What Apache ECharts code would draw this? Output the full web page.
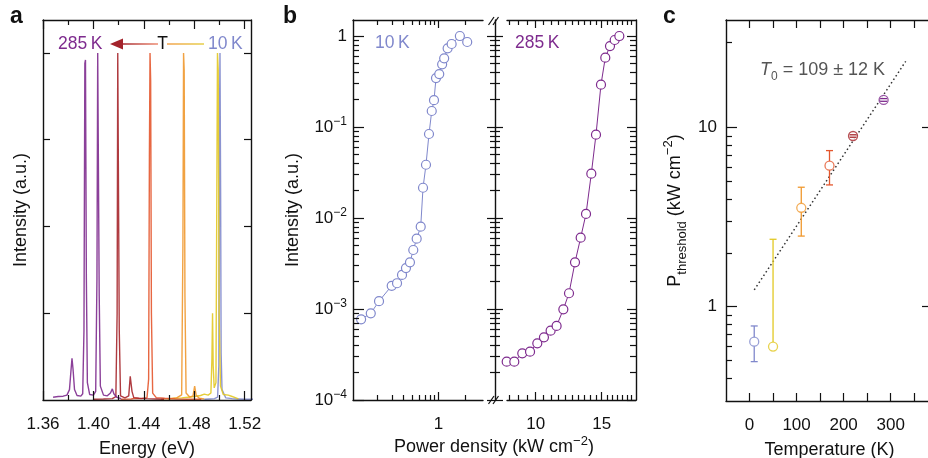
<!DOCTYPE html>
<html><head><meta charset="utf-8">
<script src="https://cdn.jsdelivr.net/npm/echarts@6/dist/echarts.min.js"></script>
<style>html,body{margin:0;padding:0;background:#fff}#c{width:928px;height:458px}</style>
</head><body><div id="c"></div>
<script>
// ---------- Panel a: normalised PL spectra [energy (eV), intensity (a.u.)] ----------
const spec10K = [[1.4880,0.002],[1.4920,0.003],[1.4960,0.004],[1.4985,0.008],[1.4995,0.10],[1.5000,0.80],[1.5004,1.00],[1.5009,0.60],[1.5013,0.135],[1.5020,0.030],[1.5050,0.006],[1.5100,0.004],[1.5150,0.003],[1.5200,0.002],[1.5280,0.002]];
const spec50K = [[1.4590,0.003],[1.4650,0.005],[1.4700,0.006],[1.4750,0.008],[1.4800,0.010],[1.4850,0.013],[1.4880,0.017],[1.4910,0.014],[1.4932,0.020],[1.4940,0.12],[1.4945,0.25],[1.4950,0.10],[1.4958,0.035],[1.4972,0.05],[1.4979,0.60],[1.4984,1.00],[1.4990,0.95],[1.4997,0.25],[1.5008,0.04],[1.5030,0.016],[1.5070,0.014],[1.5100,0.010],[1.5130,0.006],[1.5150,0.003]];
const spec110K = [[1.4536,0.002],[1.4600,0.004],[1.4660,0.006],[1.4700,0.015],[1.4710,0.45],[1.4715,1.00],[1.4720,0.95],[1.4726,0.30],[1.4735,0.02],[1.4765,0.008],[1.4790,0.012],[1.4803,0.040],[1.4808,0.044],[1.4815,0.014],[1.4840,0.005],[1.4880,0.003]];
const spec170K = [[1.4216,0.002],[1.4300,0.003],[1.4330,0.005],[1.4380,0.004],[1.4425,0.007],[1.4438,0.06],[1.4444,0.70],[1.4449,1.00],[1.4454,0.92],[1.4460,0.25],[1.4470,0.02],[1.4500,0.006],[1.4535,0.006],[1.4550,0.011],[1.4565,0.005],[1.4650,0.003],[1.4750,0.002],[1.4856,0.002]];
const spec220K = [[1.4000,0.002],[1.4080,0.003],[1.4150,0.004],[1.4178,0.010],[1.4188,0.25],[1.4193,1.00],[1.4198,1.00],[1.4205,0.20],[1.4215,0.012],[1.4250,0.006],[1.4280,0.012],[1.4292,0.068],[1.4298,0.072],[1.4306,0.025],[1.4320,0.007],[1.4360,0.005],[1.4420,0.004],[1.4500,0.003],[1.4560,0.002]];
const spec285K = [[1.3680,0.008],[1.3720,0.010],[1.3760,0.011],[1.3790,0.014],[1.3810,0.030],[1.3822,0.085],[1.3830,0.120],[1.3838,0.090],[1.3850,0.030],[1.3870,0.013],[1.3900,0.011],[1.3915,0.018],[1.3925,0.20],[1.3932,0.97],[1.3937,0.98],[1.3944,0.35],[1.3952,0.05],[1.3970,0.016],[1.4000,0.014],[1.4018,0.025],[1.4028,0.35],[1.4034,1.00],[1.4039,1.00],[1.4046,0.30],[1.4055,0.04],[1.4080,0.014],[1.4110,0.012],[1.4135,0.020],[1.4150,0.032],[1.4162,0.018],[1.4185,0.008],[1.4220,0.004]];

// ---------- Panel b: intensity vs power density ----------
const power10K = [0.132,0.170,0.211,0.294,0.338,0.385,0.427,0.474,0.517,0.565,0.628,0.667,0.721,0.780,0.838,0.889,0.937,1.02,1.10,1.16,1.27,1.41,1.75,2.12];
const intensity10K = [7.7e-4,8.97e-4,1.22e-3,1.80e-3,1.92e-3,2.37e-3,2.82e-3,3.26e-3,4.45e-3,5.93e-3,8.03e-3,0.0215,0.0385,0.0838,0.150,0.197,0.345,0.382,0.489,0.569,0.733,0.817,1.0,0.86];
const power285K = [8.37,8.77,9.21,9.66,10.10,10.52,10.96,11.37,11.85,12.27,12.73,13.18,13.62,14.07,14.48,14.93,15.33,15.78,16.24,16.71];
const intensity285K = [2.64e-4,2.64e-4,3.26e-4,3.40e-4,4.20e-4,4.89e-4,5.78e-4,6.51e-4,9.93e-4,1.49e-3,3.26e-3,6.08e-3,0.0111,0.0307,0.0824,0.292,0.578,0.776,0.904,1.0];

// ---------- Panel c: threshold vs temperature ----------
const temperatureK = [10,50,110,170,220,285];
const pThreshold = [0.637,0.598,3.57,6.14,8.99,14.3];
const pErrLow = [0.493,0.598,2.48,4.79,8.85,14.05];
const pErrHigh = [0.78,2.38,4.65,7.45,9.13,14.55];
const fitTemperature = [10,332];
const fitP = [1.24,23.5];

// ---------- Tick values / labels ----------
const energyTicks = [1.36,1.40,1.44,1.48,1.52];
const energyMinorTicks = [1.38,1.42,1.46,1.50];
const intensityTicksA = [0.25,0.5,0.75,1.0];
const powerTicksLow = [1];
const powerMinorLow = [0.2,0.3,0.4,0.5,0.6,0.7,0.8,0.9,2];
const powerTicksHigh = [10,15];
const powerMinorHigh = [8.5,9,9.5,10.5,11,11.5,12,12.5,13,13.5,14,14.5,15.5,16,16.5,17,17.5,18];
const intensityDecades = [1e-4,1e-3,1e-2,1e-1,1];
const intensityMinor = [0.0002,0.0003,0.0004,0.0005,0.0006,0.0007,0.0008,0.0009,0.002,0.003,0.004,0.005,0.006,0.007,0.008,0.009,0.02,0.03,0.04,0.05,0.06,0.07,0.08,0.09,0.2,0.3,0.4,0.5,0.6,0.7,0.8,0.9];
const tempTicks = [0,50,100,150,200,250,300,350];
const tempLabels = [0,100,200,300];
const pDecades = [1,10];
const pMinor = [0.4,0.5,0.6,0.7,0.8,0.9,2,3,4,5,6,7,8,9,30];

// ---------- Styling ----------
const FONT = '"Liberation Sans", Arial, Helvetica, sans-serif';
const INK = '#111';
const TITLE = 18;
const C10 = '#8088cc', C50 = '#e2c823', C110 = '#f0982e', C170 = '#e4572e', C220 = '#a6262b', C285 = '#7e2b8e';
const tempColors = [C10, C50, C110, C170, C220, C285];

const grid = [
  {left: 43, top: 20, width: 208, height: 380},
  {left: 353, top: 20, width: 130, height: 380},
  {left: 507, top: 20, width: 129, height: 380},
  {left: 726, top: 20, width: 207, height: 381}
].map(g => Object.assign({show: false, containLabel: false, outerBoundsMode: 'none'}, g));

const xAxes = [], yAxes = [];
function addAxis(list, o) {
  const a = {
    gridIndex: o.grid, type: o.log ? 'log' : 'value', position: o.pos,
    min: o.min, max: o.max, offset: o.offset || 0, silent: true, z: 5,
    axisLine: {show: !!o.line, onZero: false, lineStyle: {color: INK, width: 1.4}},
    axisTick: {show: !!o.ticks, inside: o.inside !== false, length: o.len || 6,
               customValues: o.ticks || undefined, lineStyle: {color: INK, width: 1.2}},
    axisLabel: o.labels ? {show: true, customValues: o.labels, formatter: o.fmt, margin: o.margin,
               color: INK, fontSize: 17, fontFamily: FONT, lineHeight: 22, rich: o.rich || {},
               showMinLabel: true, showMaxLabel: true, hideOverlap: false} : {show: false},
    splitLine: {show: false}, minorTick: {show: false}, minorSplitLine: {show: false}, splitArea: {show: false}
  };
  if (o.log) a.logBase = 10;
  if (o.name) {
    a.name = o.name; a.nameLocation = 'middle'; a.nameGap = o.nameGap;
    a.nameTextStyle = Object.assign({color: INK, fontSize: TITLE, fontFamily: FONT}, o.nameStyle || {});
  }
  list.push(a);
  return list.length - 1;
}

// panel a axes
const EA = {min: 1.36, max: 1.525};
const xA = addAxis(xAxes, Object.assign({grid: 0, pos: 'bottom', line: true, ticks: energyTicks, len: 9,
  labels: energyTicks, fmt: v => Number(v).toFixed(2), margin: 13, name: 'Energy (eV)', nameGap: 36}, EA));
addAxis(xAxes, Object.assign({grid: 0, pos: 'bottom', ticks: energyMinorTicks, len: 5}, EA));
addAxis(xAxes, Object.assign({grid: 0, pos: 'top', line: true, ticks: energyTicks, len: 9}, EA));
addAxis(xAxes, Object.assign({grid: 0, pos: 'top', ticks: energyMinorTicks, len: 5}, EA));
const IA = {min: 0, max: 1.095};
const yA = addAxis(yAxes, Object.assign({grid: 0, pos: 'left', line: true, ticks: intensityTicksA, len: 7,
  name: 'Intensity (a.u.)', nameGap: 13}, IA));
addAxis(yAxes, Object.assign({grid: 0, pos: 'right', line: true, ticks: intensityTicksA, len: 7}, IA));

// panel b axes
const decFmt = v => { const e = Math.round(Math.log10(v)); return e === 0 ? '1' : '10{sup|\u2212' + (-e) + '}'; };
const supRich = {sup: {fontSize: 12, lineHeight: 12, verticalAlign: 'top', color: INK, fontFamily: FONT}};
const IB = {min: 1e-4, max: 1.5, log: true};
const PL = {min: 0.1068, max: 3.204, log: true};
const xB1 = addAxis(xAxes, Object.assign({grid: 1, pos: 'bottom', line: true, ticks: powerTicksLow, len: 8,
  labels: powerTicksLow, fmt: v => String(v), margin: 13}, PL));
addAxis(xAxes, Object.assign({grid: 1, pos: 'bottom', ticks: powerMinorLow, len: 5}, PL));
addAxis(xAxes, Object.assign({grid: 1, pos: 'top', line: true, ticks: powerTicksLow, len: 8}, PL));
addAxis(xAxes, Object.assign({grid: 1, pos: 'top', ticks: powerMinorLow, len: 5}, PL));
const yB1 = addAxis(yAxes, Object.assign({grid: 1, pos: 'left', line: true, ticks: intensityDecades, len: 11,
  labels: intensityDecades, fmt: decFmt, rich: supRich, margin: 6, name: 'Intensity (a.u.)', nameGap: 51}, IB));
addAxis(yAxes, Object.assign({grid: 1, pos: 'left', ticks: intensityMinor, len: 6}, IB));

const PH = {min: 8.386, max: 18.51, log: true};
const xB2 = addAxis(xAxes, Object.assign({grid: 2, pos: 'bottom', line: true, ticks: powerTicksHigh, len: 8,
  labels: powerTicksHigh, fmt: v => String(v), margin: 13}, PH));
addAxis(xAxes, Object.assign({grid: 2, pos: 'bottom', ticks: powerMinorHigh, len: 5}, PH));
addAxis(xAxes, Object.assign({grid: 2, pos: 'top', line: true, ticks: powerTicksHigh, len: 8}, PH));
addAxis(xAxes, Object.assign({grid: 2, pos: 'top', ticks: powerMinorHigh, len: 5}, PH));
const yB2 = addAxis(yAxes, Object.assign({grid: 2, pos: 'left', offset: 12, line: true, ticks: intensityDecades, len: 8}, IB));
addAxis(yAxes, Object.assign({grid: 2, pos: 'left', offset: 12, ticks: intensityMinor, len: 5}, IB));
addAxis(yAxes, Object.assign({grid: 2, pos: 'left', offset: 12, ticks: intensityDecades, len: 8, inside: false}, IB));
addAxis(yAxes, Object.assign({grid: 2, pos: 'left', offset: 12, ticks: intensityMinor, len: 5, inside: false}, IB));
addAxis(yAxes, Object.assign({grid: 2, pos: 'right', line: true, ticks: intensityDecades, len: 9}, IB));
addAxis(yAxes, Object.assign({grid: 2, pos: 'right', ticks: intensityMinor, len: 6}, IB));

// panel c axes
const TC = {min: -50, max: 390};
const xC = addAxis(xAxes, Object.assign({grid: 3, pos: 'bottom', line: true, ticks: tempTicks, len: 8,
  labels: tempLabels, fmt: v => String(v), margin: 13, name: 'Temperature (K)', nameGap: 36}, TC));
addAxis(xAxes, Object.assign({grid: 3, pos: 'top', line: true, ticks: tempTicks, len: 8}, TC));
const PC = {min: 0.297, max: 40, log: true};
const yC = addAxis(yAxes, Object.assign({grid: 3, pos: 'left', line: true, ticks: pDecades, len: 11,
  labels: pDecades, fmt: v => String(v), margin: 9,
  name: '{p|P}{s|threshold}{p| (kW cm}{u|\u22122}{p|)}', nameGap: 37,
  nameStyle: {rich: {
    p: {fontSize: TITLE, lineHeight: 27, color: INK, fontFamily: FONT},
    s: {fontSize: 13, lineHeight: 13, verticalAlign: 'bottom', color: INK, fontFamily: FONT},
    u: {fontSize: 13, lineHeight: 13, verticalAlign: 'top', color: INK, fontFamily: FONT}}}}, PC));
addAxis(yAxes, Object.assign({grid: 3, pos: 'left', ticks: pMinor, len: 6}, PC));
addAxis(yAxes, Object.assign({grid: 3, pos: 'right', line: true, ticks: pDecades, len: 11}, PC));

// ---------- Series ----------
const series = [];
[[spec10K, C10], [spec50K, C50], [spec110K, C110], [spec170K, C170], [spec220K, C220], [spec285K, C285]]
  .forEach(([d, c]) => series.push({type: 'line', xAxisIndex: xA, yAxisIndex: yA, data: d, symbol: 'none',
    showSymbol: false, lineStyle: {color: c, width: 1.4, opacity: 0.9}, silent: true, z: 2}));

function sweep(xi, yi, xs, ys, c) {
  return {type: 'line', xAxisIndex: xi, yAxisIndex: yi, data: xs.map((x, i) => [x, ys[i]]),
    symbol: 'circle', symbolSize: 9, showSymbol: true, clip: false, silent: true,
    lineStyle: {color: c, width: 1}, itemStyle: {color: '#fff', borderColor: c, borderWidth: 1.2}};
}
series.push(sweep(xB1, yB1, power10K, intensity10K, C10));
series.push(sweep(xB2, yB2, power285K, intensity285K, C285));

series.push({type: 'line', xAxisIndex: xC, yAxisIndex: yC, data: fitTemperature.map((t, i) => [t, fitP[i]]),
  symbol: 'none', showSymbol: false, silent: true, z: 2,
  lineStyle: {color: '#333', width: 1.5, type: [1.6, 2.6]}});
series.push({type: 'scatter', xAxisIndex: xC, yAxisIndex: yC, symbol: 'circle', symbolSize: 9, silent: true, z: 3,
  data: temperatureK.map((t, i) => ({value: [t, pThreshold[i]],
    itemStyle: {color: '#fff', borderColor: tempColors[i], borderWidth: 1.3}}))});
series.push({type: 'custom', xAxisIndex: xC, yAxisIndex: yC, silent: true, z: 4,
  data: temperatureK.map((t, i) => [t, pErrLow[i], pErrHigh[i], pThreshold[i]]),
  encode: {x: 0, y: 3},
  renderItem: function (params, api) {
    const x = api.value(0), lo = api.value(1), hi = api.value(2), mid = api.value(3);
    const pl = api.coord([x, lo]), ph = api.coord([x, hi]), pm = api.coord([x, mid]);
    const r = 4.5, cap = 3.5;
    const style = {stroke: tempColors[params.dataIndex], lineWidth: 1.3, fill: null};
    const ch = [];
    if (ph[1] < pm[1] - r) ch.push({type: 'line', shape: {x1: ph[0], y1: ph[1], x2: ph[0], y2: pm[1] - r}, style});
    if (pl[1] > pm[1] + r) ch.push({type: 'line', shape: {x1: pl[0], y1: pm[1] + r, x2: pl[0], y2: pl[1]}, style});
    if (hi > mid) ch.push({type: 'line', shape: {x1: ph[0] - cap, y1: ph[1], x2: ph[0] + cap, y2: ph[1]}, style});
    if (lo < mid) ch.push({type: 'line', shape: {x1: pl[0] - cap, y1: pl[1], x2: pl[0] + cap, y2: pl[1]}, style});
    return {type: 'group', children: ch};
  }});

// ---------- Text & decorations ----------
function T(text, x, y, extra, st) {
  return Object.assign({type: 'text', x: x, y: y, silent: true, z: 10,
    style: Object.assign({text: text, fill: INK, fontSize: 17, fontFamily: FONT,
      align: 'left', textAlign: 'left', verticalAlign: 'middle', textVerticalAlign: 'middle'}, st || {})}, extra || {});
}
const supG = {fontSize: 13, lineHeight: 13, verticalAlign: 'top', fill: INK, color: INK, fontFamily: FONT};
const graphic = [
  T('a', 10, 17, null, {fontSize: 23, fontWeight: 'bold'}),
  T('b', 283, 17, null, {fontSize: 23, fontWeight: 'bold'}),
  T('c', 663, 17, null, {fontSize: 23, fontWeight: 'bold'}),
  // panel a temperature legend
  T('285\u2009K', 58, 44, null, {fill: C285, fontSize: 17.5}),
  {type: 'polygon', silent: true, z: 10, shape: {points: [[110, 44], [123, 38.5], [123, 49.5]]}, style: {fill: '#a3232b'}},
  {type: 'line', silent: true, z: 10, shape: {x1: 122, y1: 44, x2: 158, y2: 44},
    style: {lineWidth: 1.6, stroke: new echarts.graphic.LinearGradient(122, 0, 158, 0,
      [{offset: 0, color: '#a3232b'}, {offset: 1, color: '#ee8c72'}], true)}},
  T('T', 162.5, 44, null, {align: 'center', textAlign: 'center', fontSize: 17.5}),
  {type: 'line', silent: true, z: 10, shape: {x1: 167, y1: 44, x2: 204, y2: 44},
    style: {lineWidth: 1.6, stroke: new echarts.graphic.LinearGradient(167, 0, 204, 0,
      [{offset: 0, color: '#f2a24e'}, {offset: 1, color: '#e6d04a'}], true)}},
  T('10\u2009K', 208, 44, null, {fill: C10, fontSize: 17.5}),
  // panel b labels
  T('10\u2009K', 375, 43, null, {fill: C10, fontSize: 17.5}),
  T('285\u2009K', 515, 43, null, {fill: C285, fontSize: 17.5}),
  T('', 494, 447, null, {text: '{n|Power density (kW cm}{u|\u22122}{n|)}', align: 'center', textAlign: 'center',
    rich: {n: {fontSize: TITLE, lineHeight: 25, fill: INK, color: INK, fontFamily: FONT}, u: supG}}),
  // axis break marks
  {type: 'line', silent: true, z: 10, shape: {x1: 488.5, y1: 25, x2: 494, y2: 17}, style: {stroke: INK, lineWidth: 1.2}},
  {type: 'line', silent: true, z: 10, shape: {x1: 493, y1: 25, x2: 498.5, y2: 17}, style: {stroke: INK, lineWidth: 1.2}},
  {type: 'line', silent: true, z: 10, shape: {x1: 488.5, y1: 404, x2: 494, y2: 396}, style: {stroke: INK, lineWidth: 1.2}},
  {type: 'line', silent: true, z: 10, shape: {x1: 493, y1: 404, x2: 498.5, y2: 396}, style: {stroke: INK, lineWidth: 1.2}},
  // panel c fit annotation
  T('', 760, 70, null, {text: '{i|T}{s|0}{n| = 109 \u00b1 12 K}',
    rich: {i: {fontSize: 18, fontStyle: 'italic', lineHeight: 26, fill: '#555', color: '#555', fontFamily: FONT},
           s: {fontSize: 12, lineHeight: 12, verticalAlign: 'bottom', fill: '#555', color: '#555', fontFamily: FONT},
           n: {fontSize: 18, lineHeight: 26, fill: '#555', color: '#555', fontFamily: FONT}}})
];

const chart = echarts.init(document.getElementById('c'), null, {renderer: 'canvas'});
chart.setOption({
  animation: false,
  backgroundColor: '#fff',
  textStyle: {fontFamily: FONT},
  grid: grid, xAxis: xAxes, yAxis: yAxes, series: series, graphic: graphic
});
</script></body></html>
